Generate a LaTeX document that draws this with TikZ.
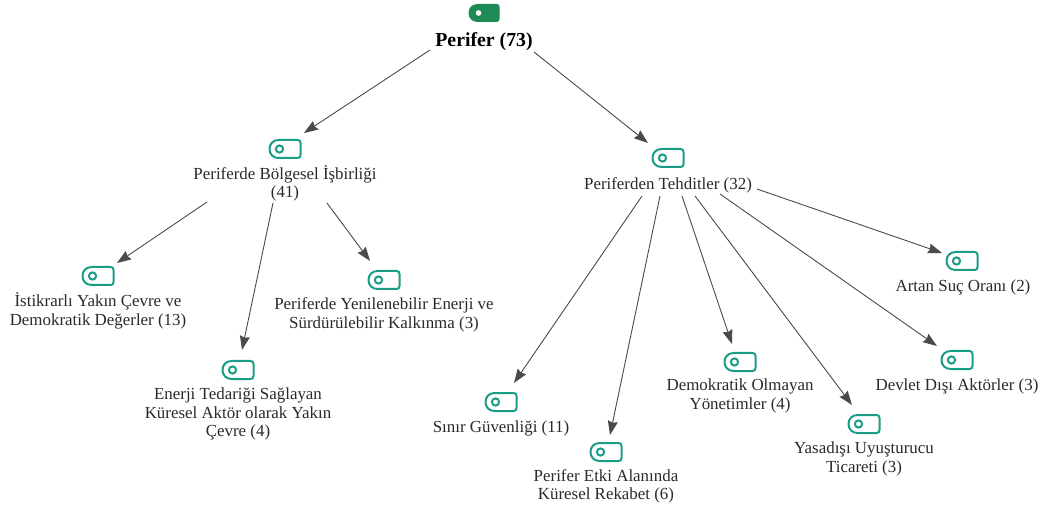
\documentclass[tikz,border=0pt]{standalone}
\usepackage{fontspec}
\setmainfont{Liberation Serif}
\usetikzlibrary{arrows.meta}
\definecolor{tealtag}{HTML}{1A9C87}
\definecolor{greentag}{HTML}{1E8A55}
\definecolor{textc}{HTML}{2A2A2A}
\definecolor{linec}{HTML}{4A4A4A}
\newcommand{\tagshape}[1]{%
  \path[#1] (-6.5,-9) -- (12.5,-9) .. controls (14.5,-9) and (15.5,-8) .. (15.5,-6) -- (15.5,6) .. controls (15.5,8) and (14.5,9) .. (12.5,9) -- (-6.5,9) .. controls (-12,9) and (-15.5,5) .. (-15.5,0) .. controls (-15.5,-5) and (-12,-9) .. (-6.5,-9) -- cycle;}
\tikzset{
  x=1pt,y=-1pt,
  tagicon/.style={minimum width=32pt,minimum height=19pt,inner sep=0pt,outer sep=0pt},
  lab/.style={font=\fontsize{16.9}{18.3}\selectfont,text=textc,align=center,inner sep=0pt},
  rootlab/.style={font=\fontsize{19.8}{20}\selectfont\bfseries,text=black,align=center,inner sep=0pt},
  conn/.style={draw=linec,line width=0.9pt,-{Stealth[length=14pt,width=10pt,inset=1.5pt]}},
}
\newcommand{\tagnode}[2]{%
  \node[tagicon] (#1) at (#2) {};
  \begin{scope}[shift={(#2)}]
    \tagshape{draw=tealtag,line width=2pt,line join=round}
    \draw[tealtag,line width=2pt] (-5.5,0) circle[radius=3.6];
  \end{scope}}
\begin{document}
\begin{tikzpicture}
\useasboundingbox[fill=white] (0,0) rectangle (1041,510);
% root
\node[tagicon] (rooticon) at (484,13) {};
\begin{scope}[shift={(484,13)}]
  \tagshape{fill=greentag}
  \fill[white] (-5.5,0) circle[radius=2.8];
\end{scope}
\node[rootlab] (root) at (484,41.5) {Perifer (73)};
% icons
\tagnode{ibolge}{285,149}
\tagnode{itehdit}{668,158}
\tagnode{iistik}{98,276}
\tagnode{iyeni}{384,280}
\tagnode{ienerji}{238,370}
\tagnode{isinir}{501,402}
\tagnode{ietki}{606,452}
\tagnode{idemo}{740,362}
\tagnode{iuyus}{864,424}
\tagnode{idevlet}{957,360}
\tagnode{isuc}{962,261}
% labels
\node[lab] (bolge) at (285,183) {Periferde Bölgesel İşbirliği\\(41)};
\node[lab] (tehdit) at (668,185) {Periferden Tehditler (32)};
\node[lab] (istik) at (98,311) {İstikrarlı Yakın Çevre ve\\Demokratik Değerler (13)};
\node[lab] (yeni) at (384,315) {Periferde Yenilenebilir Enerji ve\\Sürdürülebilir Kalkınma (3)};
\node[lab] (enerji) at (238,414) {Enerji Tedariği Sağlayan\\Küresel Aktör olarak Yakın\\Çevre (4)};
\node[lab] (sinir) at (501,428) {Sınır Güvenliği (11)};
\node[lab] (etki) at (606,486) {Perifer Etki Alanında\\Küresel Rekabet (6)};
\node[lab] (demo) at (740,396) {Demokratik Olmayan\\Yönetimler (4)};
\node[lab] (uyus) at (864,459) {Yasadışı Uyuşturucu\\Ticareti (3)};
\node[lab] (devlet) at (957,386) {Devlet Dışı Aktörler (3)};
\node[lab] (suc) at (963,287) {Artan Suç Oranı (2)};
% connectors
\draw[conn] ([shift={(-54,8.5)}]root.center) -- ([shift={(19,-16)}]ibolge.center);
\draw[conn] ([shift={(50,10.5)}]root.center) -- ([shift={(-20,-15)}]itehdit.center);
\draw[conn] ([shift={(-78,19)}]bolge.center) -- ([shift={(19,-13)}]iistik.center);
\draw[conn] ([shift={(-12,20)}]bolge.center) -- ([shift={(4,-20)}]ienerji.center);
\draw[conn] ([shift={(42,20)}]bolge.center) -- ([shift={(-14,-19)}]iyeni.center);
\draw[conn] ([shift={(-26,11)}]tehdit.center) -- ([shift={(13,-19)}]isinir.center);
\draw[conn] ([shift={(-8,11)}]tehdit.center) -- ([shift={(4,-17)}]ietki.center);
\draw[conn] ([shift={(14,11)}]tehdit.center) -- ([shift={(-8,-18)}]idemo.center);
\draw[conn] ([shift={(27,11)}]tehdit.center) -- ([shift={(-12,-19)}]iuyus.center);
\draw[conn] ([shift={(52,9)}]tehdit.center) -- ([shift={(-20,-14)}]idevlet.center);
\draw[conn] ([shift={(89,4)}]tehdit.center) -- ([shift={(-20,-8)}]isuc.center);
\end{tikzpicture}
\end{document}
